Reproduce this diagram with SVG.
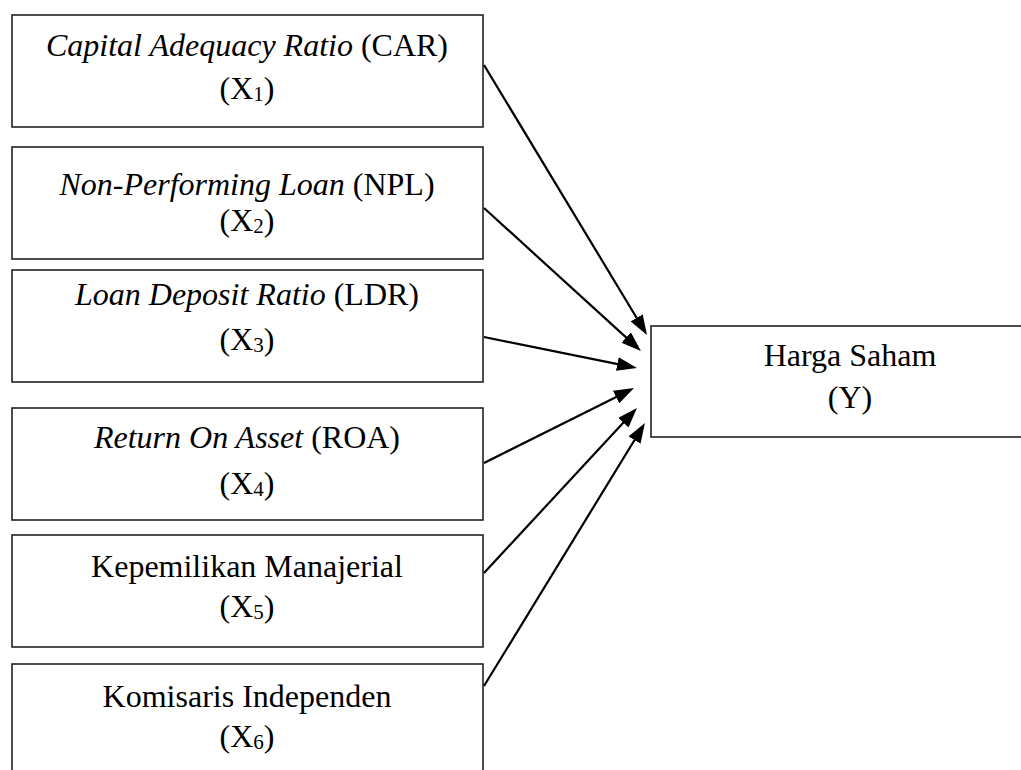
<svg xmlns="http://www.w3.org/2000/svg" width="1021" height="770" viewBox="0 0 1021 770">
<style>
.box{fill:#fff;stroke:#222;stroke-width:1.6}
text{font-family:"Liberation Serif","Times New Roman",serif;font-size:32px;fill:#000;text-anchor:middle}
.it{font-style:italic}
.sub{font-size:21px}
.conn line{stroke:#000;stroke-width:2.2;marker-end:url(#ah)}
</style>
<defs>
<marker id="ah" markerUnits="userSpaceOnUse" markerWidth="20" markerHeight="14" refX="8" refY="7" orient="auto">
<path d="M0,0 L20,7 L0,14 z" fill="#000"/>
</marker>
</defs>
<rect width="1021" height="770" fill="#fff"/>
<g id="x1">
<rect class="box" x="12" y="15" width="471" height="112"/>
<text x="247" y="56"><tspan class="it">Capital Adequacy Ratio</tspan> (CAR)</text>
<text x="247" y="99">(X<tspan class="sub" dy="2">1</tspan><tspan dy="-2">)</tspan></text>
</g>
<g id="x2">
<rect class="box" x="12" y="147" width="471" height="112"/>
<text x="247" y="195"><tspan class="it">Non-Performing Loan</tspan> (NPL)</text>
<text x="247" y="231">(X<tspan class="sub" dy="2">2</tspan><tspan dy="-2">)</tspan></text>
</g>
<g id="x3">
<rect class="box" x="12" y="270" width="471" height="112"/>
<text x="247" y="305"><tspan class="it">Loan Deposit Ratio</tspan> (LDR)</text>
<text x="247" y="350">(X<tspan class="sub" dy="2">3</tspan><tspan dy="-2">)</tspan></text>
</g>
<g id="x4">
<rect class="box" x="12" y="408" width="471" height="112"/>
<text x="247" y="448"><tspan class="it">Return On Asset</tspan> (ROA)</text>
<text x="247" y="494">(X<tspan class="sub" dy="2">4</tspan><tspan dy="-2">)</tspan></text>
</g>
<g id="x5">
<rect class="box" x="12" y="535" width="471" height="112"/>
<text x="247" y="577">Kepemilikan Manajerial</text>
<text x="247" y="617">(X<tspan class="sub" dy="2">5</tspan><tspan dy="-2">)</tspan></text>
</g>
<g id="x6">
<rect class="box" x="12" y="664" width="471" height="130"/>
<text x="247" y="707">Komisaris Independen</text>
<text x="247" y="747">(X<tspan class="sub" dy="2">6</tspan><tspan dy="-2">)</tspan></text>
</g>
<g id="y">
<rect class="box" x="651" y="326" width="398" height="111"/>
<text x="850" y="366">Harga Saham</text>
<text x="850" y="408">(Y)</text>
</g>
<g id="connectors" class="conn">
<line x1="484" y1="65" x2="640.8" y2="324.7"/>
<line x1="484" y1="208" x2="632.1" y2="342.9"/>
<line x1="484" y1="337" x2="625.2" y2="365.6"/>
<line x1="484" y1="463" x2="623.3" y2="393.4"/>
<line x1="484" y1="573" x2="628.8" y2="416.8"/>
<line x1="484" y1="686" x2="638.7" y2="433.2"/>
</g>
</svg>
